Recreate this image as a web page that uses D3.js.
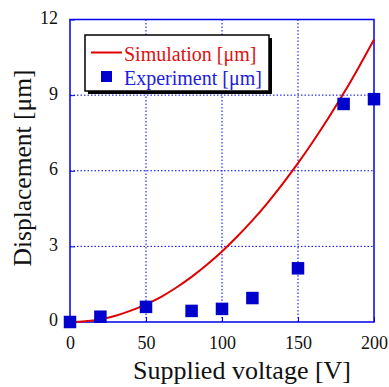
<!DOCTYPE html>
<html>
<head>
<meta charset="utf-8">
<script src="https://cdn.jsdelivr.net/npm/d3@7"></script>
<style>
  body { margin: 0; background: #fff; }
</style>
</head>
<body>
<script>
// simulation curve, every 10 V
const simVoltage = [0, 10, 20, 30, 40, 50, 60, 70, 80, 90, 100, 110, 120, 130, 140, 150, 160, 170, 180, 190, 200]
const simDisp = [0, 0.03, 0.11, 0.25, 0.45, 0.7, 1.0, 1.37, 1.79, 2.27, 2.8, 3.39, 4.03, 4.73, 5.49, 6.3, 7.17, 8.09, 9.07, 10.11, 11.2]

// measured points
const expVoltage = [0, 20, 50, 80, 100, 120, 150, 180, 200]
const expDisp = [0, 0.21, 0.6, 0.44, 0.52, 0.95, 2.13, 8.65, 8.84]

const xTicks = [0, 50, 100, 150, 200]
const yTicks = [0, 3, 6, 9, 12]

const W = 389, H = 387
const plotL = 70, plotR = 374, plotT = 19.5, plotB = 322

const blue = '#0000ee'
const red = '#e00000'
const serif = '"Liberation Serif", "Times New Roman", serif'

const x = d3.scaleLinear().domain([0, 200]).range([plotL, plotR])
const y = d3.scaleLinear().domain([0, 12]).range([plotB, plotT])

const svg = d3.select('body').append('svg').attr('width', W).attr('height', H)

// dotted grid
svg.selectAll('line.gx')
    .data(xTicks.slice(1, -1))
    .enter().append('line')
        .attr('class', 'gx')
        .attr('x1', d => x(d)).attr('x2', d => x(d))
        .attr('y1', plotT).attr('y2', plotB)
        .attr('stroke', blue).attr('stroke-width', 1)
        .attr('stroke-dasharray', '1.5,2')

svg.selectAll('line.gy')
    .data(yTicks.slice(1, -1))
    .enter().append('line')
        .attr('class', 'gy')
        .attr('x1', plotL).attr('x2', plotR)
        .attr('y1', d => y(d)).attr('y2', d => y(d))
        .attr('stroke', blue).attr('stroke-width', 1)
        .attr('stroke-dasharray', '1.5,2')

// axes: inward ticks, no domain path (frame drawn below)
const xAxis = d3.axisBottom(x).tickValues(xTicks).tickSizeInner(-5).tickSizeOuter(0).tickPadding(14)
const yAxis = d3.axisLeft(y).tickValues(yTicks).tickSizeInner(-5).tickSizeOuter(0).tickPadding(12)

const gx = svg.append('g').attr('transform', `translate(0,${plotB})`).call(xAxis)
const gy = svg.append('g').attr('transform', `translate(${plotL},0)`).call(yAxis)
gx.select('.domain').remove()
gy.select('.domain').remove()
gx.attr('font-family', null)
gy.attr('font-family', null)
gx.selectAll('line').attr('stroke', blue)
gy.selectAll('line').attr('stroke', blue)
gx.selectAll('text').attr('fill', '#111').style('font-family', serif).style('font-size', '18px')
gy.selectAll('text').attr('fill', '#111').style('font-family', serif).style('font-size', '18px').attr('dy', '0.22em')

// frame
svg.append('rect')
    .attr('x', plotL).attr('y', plotT)
    .attr('width', plotR - plotL).attr('height', plotB - plotT)
    .attr('fill', 'none').attr('stroke', blue).attr('stroke-width', 1.5)

// simulation line
const line = d3.line()
    .x((d, i) => x(simVoltage[i]))
    .y(d => y(d))
    .curve(d3.curveMonotoneX)

svg.append('path')
    .datum(simDisp)
    .attr('d', line)
    .attr('fill', 'none')
    .attr('stroke', red)
    .attr('stroke-width', 2)

// experiment squares
const sq = 12.5
svg.selectAll('rect.pt')
    .data(expDisp)
    .enter().append('rect')
        .attr('class', 'pt')
        .attr('x', (d, i) => x(expVoltage[i]) - sq / 2)
        .attr('y', d => y(d) - sq / 2)
        .attr('width', sq).attr('height', sq)
        .attr('fill', '#0000cc')

// legend with shadow
svg.append('rect')
    .attr('x', 88).attr('y', 38).attr('width', 184).attr('height', 56)
    .attr('fill', '#000')
svg.append('rect')
    .attr('x', 85).attr('y', 35).attr('width', 184).attr('height', 56)
    .attr('fill', '#fff').attr('stroke', '#000').attr('stroke-width', 1.5)

svg.append('line')
    .attr('x1', 91).attr('x2', 122).attr('y1', 52.5).attr('y2', 52.5)
    .attr('stroke', red).attr('stroke-width', 2)
svg.append('rect')
    .attr('x', 101).attr('y', 71).attr('width', 11).attr('height', 11)
    .attr('fill', '#0000cc')

svg.append('text')
    .attr('x', 124).attr('y', 60.5)
    .style('font-family', serif).style('font-size', '20px').attr('fill', '#e01010')
    .text('Simulation [μm]')
svg.append('text')
    .attr('x', 124).attr('y', 84.5)
    .style('font-family', serif).style('font-size', '20px').attr('fill', '#2020dd')
    .text('Experiment [μm]')

// axis titles
svg.append('text')
    .attr('x', 242).attr('y', 379)
    .attr('text-anchor', 'middle')
    .style('font-family', serif).style('font-size', '26px').attr('fill', '#111')
    .text('Supplied voltage [V]')

svg.append('text')
    .attr('transform', 'translate(31,168) rotate(-90)')
    .attr('text-anchor', 'middle')
    .style('font-family', serif).style('font-size', '25.5px').attr('fill', '#111')
    .text('Displacement [μm]')
</script>
</body>
</html>
